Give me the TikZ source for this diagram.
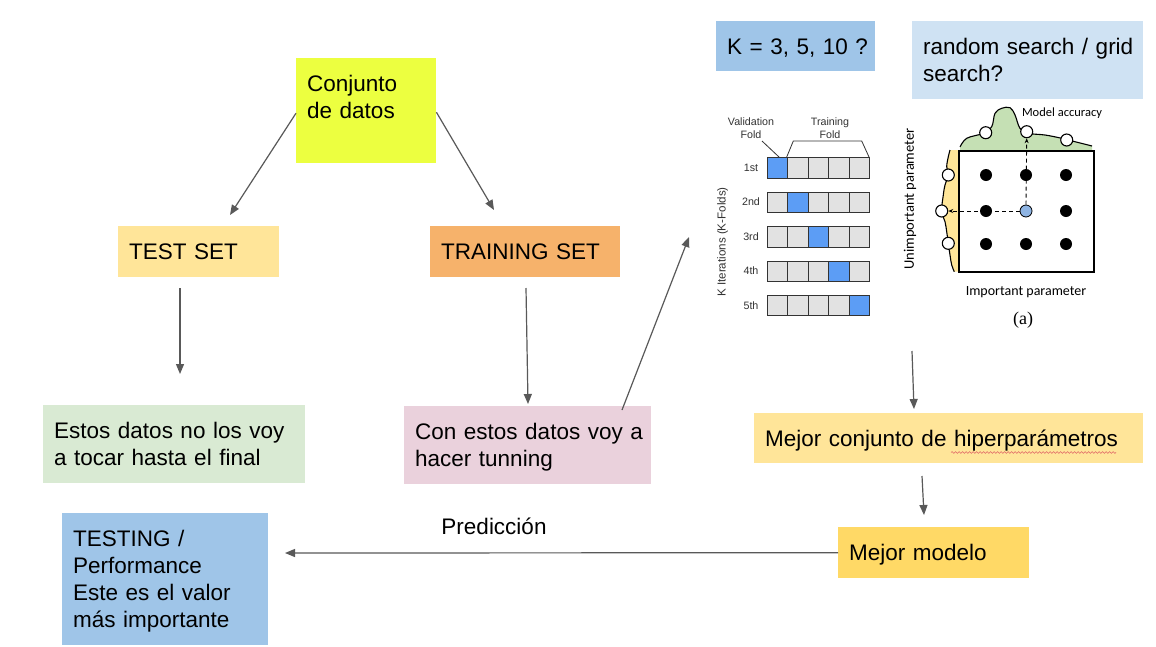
\documentclass[tikz,border=0pt]{standalone}
\usepackage{fontspec}
\setmainfont{Liberation Sans}
\newfontfamily\calibfont{Carlito}
\newfontfamily\seriffont{Liberation Serif}
\usetikzlibrary{arrows.meta,decorations.pathmorphing}
\definecolor{linegray}{HTML}{595959}
\definecolor{conjfill}{HTML}{ECFF40}
\definecolor{testfill}{HTML}{FFE599}
\definecolor{trainfill}{HTML}{F6B26B}
\definecolor{estosfill}{HTML}{D9EAD3}
\definecolor{confill}{HTML}{EAD1DC}
\definecolor{bluefill}{HTML}{9FC5E8}
\definecolor{randfill}{HTML}{CFE2F3}
\definecolor{mejormfill}{HTML}{FFD966}
\definecolor{cellblue}{HTML}{5C9DF5}
\definecolor{cellgray}{HTML}{E2E2E2}
\definecolor{celledge}{HTML}{333333}
\definecolor{accgreen}{HTML}{C5E0B4}
\definecolor{paryellow}{HTML}{FFE699}
\definecolor{dotblue}{HTML}{8EB4E3}
\definecolor{kgray}{HTML}{333333}
\definecolor{spellred}{HTML}{E06666}
\tikzset{
  box/.style={anchor=north west, inner xsep=11pt, inner ysep=0pt, align=left,
    font=\fontsize{22.5}{27}\selectfont, text=black, text height=16.2pt},
  oneln/.style={text depth=0pt},
  twoln/.style={text depth=27pt},
  threeln/.style={text depth=54pt},
  fourln/.style={text depth=81pt},
  conn/.style={draw=linegray, line width=1.2pt, -{Triangle[length=10pt,width=8pt]}},
  cell/.style={draw=celledge, line width=0.9pt, minimum width=20.5pt, minimum height=20.5pt,
    inner sep=0pt, anchor=north west},
  kfont/.style={font=\fontsize{10.7}{13.5}\selectfont, text=kgray, inner sep=0pt},
  gfont/.style={font=\calibfont\fontsize{12.5}{14}\selectfont, text=black, inner sep=0pt},
  gdot/.style={circle, fill=black, minimum size=12pt, inner sep=0pt},
  odot/.style={circle, draw=black, fill=white, line width=1.1pt, minimum size=12pt, inner sep=0pt},
  dashconn/.style={draw=black, line width=0.9pt, dash pattern=on 4pt off 3pt, -{Stealth[length=5pt,width=4pt]}}
}
\begin{document}
\begin{tikzpicture}[x=1pt,y=-1pt]
\fill[white] (0,0) rectangle (1156,646);
\useasboundingbox (0,0) rectangle (1156,646);

% ---- main boxes
\node[box, threeln, fill=conjfill, text width=118pt, minimum height=105pt] (conj) at (296,58) {\mbox{Conjunto}\\\mbox{de datos}\\\mbox{}};
\node[box, oneln, fill=testfill, text width=139pt, minimum height=51pt] (test) at (118,226) {\mbox{TEST SET}};
\node[box, oneln, fill=trainfill, text width=168pt, minimum height=51pt] (train) at (430,226) {\mbox{TRAINING SET}};
\node[box, twoln, fill=estosfill, text width=240pt, minimum height=78pt] (estos) at (43,405) {\mbox{Estos datos no los voy}\\\mbox{a tocar hasta el final}};
\node[box, twoln, fill=confill, text width=225pt, minimum height=78pt] (con) at (404,406) {\mbox{Con estos datos voy a}\\\mbox{hacer tunning}};
\node[box, fourln, fill=bluefill, text width=184pt, minimum height=132pt] (testing) at (62,513) {\mbox{TESTING /}\\\mbox{Performance}\\\mbox{Este es el valor}\\\mbox{más importante}};
\node[box, oneln, fill=bluefill, text width=137pt, minimum height=50pt] (kbox) at (716,21) {\mbox{K = 3, 5, 10 ?}};
\node[box, twoln, fill=randfill, text width=209pt, minimum height=78pt] (rand) at (912,21) {\mbox{random search / grid}\\\mbox{search?}};
\node[box, oneln, fill=testfill, text width=367pt, minimum height=50pt] (mejorc) at (754,413) {\mbox{Mejor conjunto de hiperparámetros}};
\node[box, oneln, fill=mejormfill, text width=169pt, minimum height=51pt] (mejorm) at (838,527) {\mbox{Mejor modelo}};
% spell-check underline shown in the picture
\draw[spellred, line width=0.6pt, decorate, decoration={snake, amplitude=0.9pt, segment length=3.5pt}] (951,452.5) -- (1116,452.5);

% ---- connectors
\coordinate (a1) at (230,215);
\coordinate (a2) at (494,210);
\coordinate (b1) at (180,288);
\coordinate (b2) at (180,374);
\coordinate (c1) at (526,288);
\coordinate (c2) at (528,404);
\coordinate (d1) at (622,410);
\coordinate (d2) at (689,237);
\coordinate (e1) at (912,351);
\coordinate (e2) at (914,409);
\coordinate (f1) at (922,476);
\coordinate (f2) at (924,515);
\coordinate (g2) at (285,553);
\draw[conn] ([yshift=-2.5pt]conj.west) -- (a1);
\draw[conn] ([yshift=-1.5pt]conj.east) -- (a2);
\draw[conn] (b1) -- (b2);
\draw[conn] (c1) -- (c2);
\draw[conn] (d1) -- (d2);
\draw[conn] (e1) -- (e2);
\draw[conn] (f1) -- (f2);
\draw[conn] (mejorm.west) -- (g2);
\node[font=\fontsize{22.5}{27}\selectfont, inner sep=0pt] (pred) at (494,526) {Predicción};

% ---- K-fold figure
\foreach \i in {0,...,4} {
  \foreach \j in {0,...,4} {
    \ifnum\i=\j \def\cf{cellblue}\else\def\cf{cellgray}\fi
    \node[cell, fill=\cf] (cell\i\j) at ({766.7+20.5*\j},{157.3+34.4*\i}) {};
  }
}
\foreach \i/\t in {0/1st,1/2nd,2/3rd,3/4th,4/5th}
  \node[kfont] (rl\i) at (751,{167.6+34.4*\i}) {\t};
\node[kfont, font=\fontsize{11.6}{13.5}\selectfont, rotate=90] (kit) at (722.5,242) {K Iterations (K-Folds)};
\node[kfont, align=center] (vf) at (751,128) {Validation\\Fold};
\node[kfont, align=center] (tf) at (830,128) {Training\\Fold};
\draw[draw=kgray, line width=0.8pt] (786.7,157) -- (793.3,141) -- (861.7,141) -- (869,157);
\draw[draw=kgray, line width=0.8pt] (762,141) -- (779,157);

% ---- grid search figure
\fill[accgreen] plot[smooth, tension=0.6] coordinates {(960,147) (966.7,138.3) (983.3,133.3) (991.7,126.7) (995,113.3) (1001.7,108.3) (1010,107.7) (1015,115) (1020,128.3) (1028.3,133.3) (1045,135) (1061.7,138.3) (1075,141.7) (1092,146)} -- (1092,150) -- (960,150) -- cycle;
\draw[line width=1.1pt] plot[smooth, tension=0.6] coordinates {(960,147) (966.7,138.3) (983.3,133.3) (991.7,126.7) (995,113.3) (1001.7,108.3) (1010,107.7) (1015,115) (1020,128.3) (1028.3,133.3) (1045,135) (1061.7,138.3) (1075,141.7) (1092,146)};
\fill[paryellow] plot[smooth, tension=0.6] coordinates {(950,150) (948.3,156.7) (946.7,166.7) (948.3,175) (945,185) (943.3,195) (941.7,211) (945,221.7) (946.7,231.7) (948.3,243.3) (950,255) (951.7,265) (954.3,271.7)} -- (958,271.7) -- (958,150) -- cycle;
\draw[line width=1.1pt] plot[smooth, tension=0.6] coordinates {(950,150) (948.3,156.7) (946.7,166.7) (948.3,175) (945,185) (943.3,195) (941.7,211) (945,221.7) (946.7,231.7) (948.3,243.3) (950,255) (951.7,265) (954.3,271.7)};
\node[draw=black, line width=1.8pt, fill=white, minimum width=135pt, minimum height=121pt, anchor=north west, inner sep=0pt] (sq) at (958,150) {};
\foreach \r/\yy in {0/175,1/211,2/244} {
  \foreach \c/\xx in {0/986,1/1026,2/1066} {
    \node[gdot] (gd\r\c) at (\xx,\yy) {};
  }
}
\node[gdot, fill=dotblue, draw=black, line width=0.8pt] (cdot) at (1026,211) {};
\node[odot] (ot1) at (985.7,132.7) {};
\node[odot] (ot2) at (1026.7,131.7) {};
\node[odot] (ot3) at (1066.7,140) {};
\node[odot] (ol1) at (948.3,175) {};
\node[odot] (ol2) at (941.7,211) {};
\node[odot] (ol3) at (948.3,243.3) {};
\draw[dashconn] (cdot.north) -- (ot2.south);
\draw[dashconn] (cdot.west) -- (ol2.east);
\node[gfont] (macc) at (1062,113) {Model accuracy};
\node[gfont, font=\calibfont\fontsize{14.5}{16}\selectfont, rotate=90] (unimp) at (910,199) {Unimportant parameter};
\node[gfont, font=\calibfont\fontsize{14}{16}\selectfont] (imp) at (1026,292) {Important parameter};
\node[font=\seriffont\fontsize{18}{20}\selectfont, inner sep=0pt] (lbla) at (1023,320.5) {(a)};
\end{tikzpicture}
\end{document}
